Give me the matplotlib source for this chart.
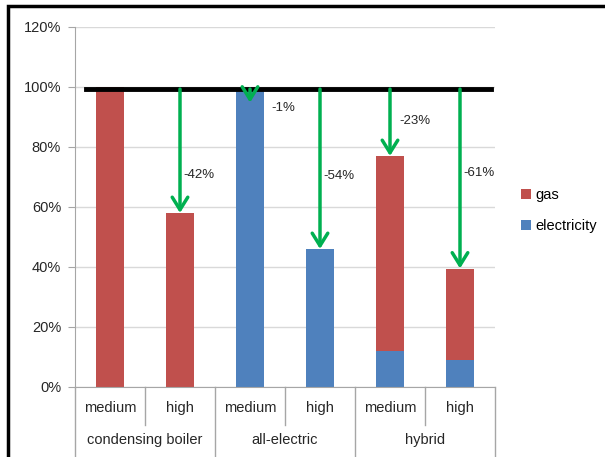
import matplotlib.pyplot as plt
import matplotlib.transforms as mtransforms
from matplotlib.patches import Rectangle

# data (percent of reference)
groups = ['condensing boiler', 'all-electric', 'hybrid']
levels = ['medium', 'high']
electricity = [0, 0, 99, 46, 12, 9]
gas = [100, 58, 0, 0, 65, 30.5]
baseline = 99.3
changes = ['', '-42%', '-1%', '-54%', '-23%', '-61%']
yticks = [0, 20, 40, 60, 80, 100, 120]

c_gas = '#C0504D'
c_el = '#4F81BD'
c_arrow = '#00B050'
grid_c = '#D9D9D9'
axis_c = '#A6A6A6'

plt.rcParams['font.family'] = ['Liberation Sans', 'DejaVu Sans']

fig = plt.figure(figsize=(6.05, 4.57), dpi=100)
ax = fig.add_axes([75/605, 1-387/457, 420/605, 360/457])

x = list(range(len(gas)))
w = 0.4
ax.bar(x, [v/100 for v in electricity], w, color=c_el, label='electricity', zorder=2)
ax.bar(x, [v/100 for v in gas], w, bottom=[v/100 for v in electricity], color=c_gas,
       label='gas', zorder=2)

ax.set_xlim(-0.5, 5.5)
ax.set_ylim(0, 1.2)
ax.set_yticks([t/100 for t in yticks])
ax.set_yticklabels(['%d%%' % t for t in yticks], fontsize=10.5, color='#262626')
ax.yaxis.grid(True, color=grid_c, lw=1, zorder=0)
ax.tick_params(axis='y', length=5, color=axis_c, pad=5)
ax.set_xticks([])
for s in ['top', 'right']:
    ax.spines[s].set_visible(False)
ax.spines['left'].set_color(axis_c)
ax.spines['bottom'].set_color(axis_c)

# reference line and arrows
ax.axhline(baseline/100, xmin=11/420, xmax=416/420, color='black', lw=3.5, zorder=3)
label_y = [0, 0.707, 0.93, 0.703, 0.887, 0.713]
label_dx = [0, 0.05, 0.3, 0.05, 0.14, 0.05]
for i in range(len(gas)):
    if not changes[i]:
        continue
    top = min((gas[i] + electricity[i]) / 100, baseline/100 - 0.045)
    ax.annotate('', xy=(i, top), xytext=(i, baseline/100),
                arrowprops=dict(arrowstyle='->,head_length=0.45,head_width=0.28',
                                color=c_arrow, lw=2.5, mutation_scale=20,
                                shrinkA=0, shrinkB=0), zorder=4)
    ax.text(i + label_dx[i], label_y[i], changes[i], fontsize=9.5, ha='left',
            va='center', color='#262626', zorder=5)

# two-level category axis
trans = mtransforms.blended_transform_factory(ax.transData, ax.transAxes)
for i in range(len(gas)):
    ax.text(i, -0.058, levels[i % 2], transform=trans, ha='center', va='center',
            fontsize=10.5, color='#262626')
for g, name in enumerate(groups):
    ax.text(2*g + 0.5, -0.147, name, transform=trans, ha='center', va='center',
            fontsize=10.5, color='#262626')
for b in [-0.5, 1.5, 3.5, 5.5]:
    ax.plot([b, b], [0, -0.2], transform=trans, color=axis_c, lw=1, clip_on=False)
for b in [0.5, 2.5, 4.5]:
    ax.plot([b, b], [0, -0.105], transform=trans, color=axis_c, lw=1, clip_on=False)

ax.legend(handles=ax.containers[::-1], labels=['gas', 'electricity'],
          loc='center left', bbox_to_anchor=(1.03, 0.49), frameon=False,
          fontsize=10.5, handlelength=0.7, handleheight=0.7, handletextpad=0.3,
          labelspacing=1.2)

# screenshot border
fig.patches.append(Rectangle((8/605, -0.1), 1.2, 1 - 6/457 + 0.1, transform=fig.transFigure,
                             fill=False, edgecolor='black', lw=2.5))

fig.savefig('out.png', dpi=100)
